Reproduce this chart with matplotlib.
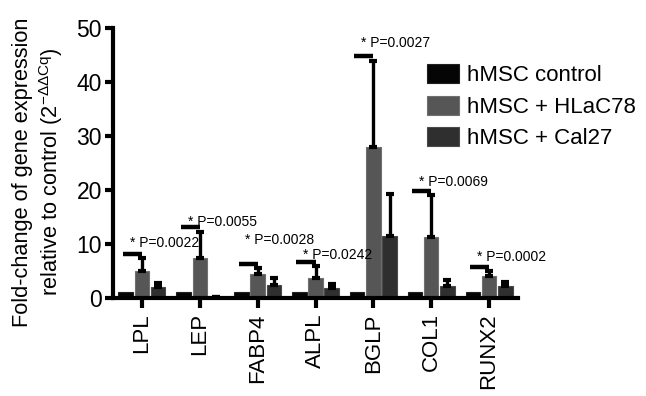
import numpy as np
import matplotlib
matplotlib.use("Agg")
import matplotlib.pyplot as plt

plt.rcParams['font.family'] = ['Liberation Sans', 'DejaVu Sans']
plt.rcParams['mathtext.default'] = 'regular'

genes = ['LPL', 'LEP', 'FABP4', 'ALPL', 'BGLP', 'COL1', 'RUNX2']
series = ['hMSC control', 'hMSC + HLaC78', 'hMSC + Cal27']

control = [1.1, 1.1, 1.1, 1.1, 1.1, 1.1, 1.1]
hlac78 = [5.0, 7.5, 4.4, 3.7, 27.9, 11.3, 4.1]
hlac78_err = [2.4, 4.7, 1.2, 2.3, 15.9, 7.7, 0.9]
cal27 = [2.1, 0.2, 2.4, 1.8, 11.5, 2.3, 2.2]
cal27_err = [0.7, 0.0, 1.3, 0.8, 7.8, 1.0, 0.7]

p_values = ['0.0022', '0.0055', '0.0028', '0.0242', '0.0027', '0.0069', '0.0002']
sig_line_y = [8.1, 13.1, 6.3, 6.7, 44.8, 19.8, 5.8]
sig_text_y = [10.1, 14.0, 10.7, 7.9, 47.2, 21.4, 7.6]

colors = ['#050505', '#565656', '#2f2f2f']
edges = ['#202020', '#707070', '#4a4a4a']

fig = plt.figure(figsize=(6.46, 3.96), dpi=100)
ax = fig.add_axes([113/646, 1 - 298/396, (518 - 113)/646, (298 - 28)/396])

x = np.arange(len(genes))
w = 0.25
off = 0.28

ax.bar(x - off, control, w, color=colors[0], edgecolor=edges[0], lw=0.8, label=series[0], zorder=2)
ax.bar(x, hlac78, w, color=colors[1], edgecolor=edges[1], lw=0.8, label=series[1], zorder=2)
ax.bar(x + off, cal27, w, color=colors[2], edgecolor=edges[2], lw=0.8, label=series[2], zorder=2)

ax.errorbar(x, hlac78, yerr=[np.zeros(len(x)), hlac78_err], fmt='none',
            ecolor='black', elinewidth=2.4, capsize=3.2, capthick=3, zorder=3)
ax.errorbar(x + off, cal27, yerr=[np.zeros(len(x)), cal27_err], fmt='none',
            ecolor='black', elinewidth=2.4, capsize=3.2, capthick=3, zorder=3)

for i in range(len(genes)):
    ax.plot([x[i] - 0.33, x[i]], [sig_line_y[i], sig_line_y[i]], color='black',
            lw=3.2, solid_capstyle='butt', zorder=4)
    ax.text(x[i] - 0.21, sig_text_y[i], '* P=' + p_values[i], fontsize=10,
            ha='left', va='center', zorder=5)

ax.set_xlim(-0.5, 6.5)
ax.set_ylim(0, 50)
ax.set_yticks([0, 10, 20, 30, 40, 50])
ax.set_xticks(x)
ax.set_xticklabels(genes, rotation=90, fontsize=16)
ax.tick_params(axis='y', labelsize=16.5, width=3, length=6, pad=2)
ax.tick_params(axis='x', width=3, length=7, pad=4)

ax.spines['top'].set_visible(False)
ax.spines['right'].set_visible(False)
ax.spines['left'].set_linewidth(3)
ax.spines['bottom'].set_linewidth(3)

ax.set_ylabel('Fold-change of gene expression\nrelative to control (2$^{-\\Delta\\Delta Cq}$)',
              fontsize=15.7, linespacing=1.2)
ax.yaxis.set_label_coords(-0.118, 0.467)

fig.legend(loc='upper left', bbox_to_anchor=(427/646, 1 - 64/396), frameon=False,
           fontsize=16, handlelength=1.45, handleheight=0.95, handletextpad=0.35,
           labelspacing=0.42, borderpad=0, borderaxespad=0)

fig.savefig('out.png', dpi=100)
